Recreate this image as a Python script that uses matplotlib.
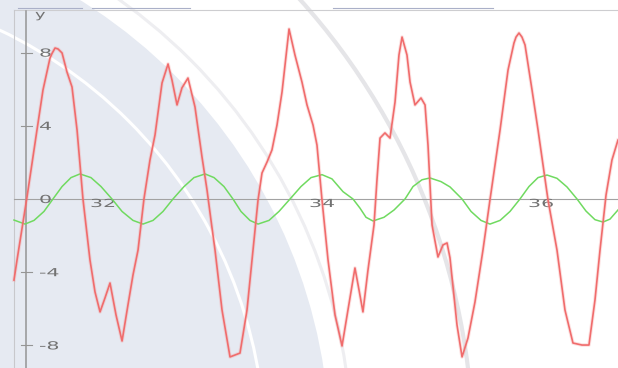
import matplotlib
matplotlib.use("Agg")
import matplotlib.pyplot as plt
from matplotlib.patches import Circle
from matplotlib.patheffects import AbstractPathEffect
from matplotlib.transforms import Affine2D, offset_copy

# ---- data -------------------------------------------------------------
# red signal (x, y samples)
red_x = [31.187, 31.215, 31.306, 31.397, 31.452, 31.516, 31.534, 31.562, 31.589, 31.626,
         31.671, 31.717, 31.763, 31.817, 31.881, 31.927, 31.973, 32.018, 32.064, 32.119,
         32.174, 32.228, 32.274, 32.320, 32.374, 32.429, 32.475, 32.539, 32.594, 32.630,
         32.676, 32.721, 32.776, 32.840, 32.904, 32.950, 32.986, 33.023, 33.087, 33.160,
         33.251, 33.315, 33.370, 33.416, 33.452, 33.498, 33.543, 33.589, 33.635, 33.699,
         33.753, 33.817, 33.863, 33.918, 33.954, 34.000, 34.055, 34.119, 34.183, 34.237,
         34.301, 34.338, 34.374, 34.420, 34.475, 34.502, 34.530, 34.575, 34.621, 34.667,
         34.703, 34.731, 34.776, 34.804, 34.849, 34.904, 34.941, 34.968, 35.005, 35.059,
         35.105, 35.142, 35.169, 35.233, 35.279, 35.333, 35.397, 35.470, 35.534, 35.626,
         35.699, 35.753, 35.772, 35.799, 35.826, 35.854, 35.918, 35.973, 36.064, 36.146,
         36.219, 36.292, 36.374, 36.438, 36.493, 36.539, 36.594, 36.648, 36.703]
red_y = [-4.43, -3.33, 0.11, 3.77, 5.96, 7.70, 7.95, 8.25, 8.20, 7.98,
         6.94, 6.12, 3.77, 0.00, -3.33, -5.08, -6.17, -5.41, -4.59, -6.34,
         -7.76, -5.79, -4.15, -2.79, 0.00, 2.13, 3.50, 6.34, 7.38, 6.50,
         5.14, 6.07, 6.61, 5.03, 2.30, 0.49, -1.15, -2.79, -6.07, -8.63,
         -8.42, -6.07, -2.79, -0.05, 1.42, 2.02, 2.68, 4.04, 5.85, 9.29,
         7.87, 6.39, 5.14, 4.04, 2.95, -0.05, -3.33, -6.34, -8.03, -6.07,
         -3.77, -4.97, -6.17, -3.88, -1.42, 1.04, 3.33, 3.61, 3.33, 5.30,
         7.87, 8.85, 7.87, 6.39, 5.14, 5.52, 5.14, 2.95, -1.42, -3.17,
         -2.51, -2.40, -3.22, -6.89, -8.63, -7.60, -5.63, -2.79, -0.05, 3.77,
         7.05, 8.52, 8.85, 9.07, 8.85, 8.42, 5.96, 3.77, -0.05, -2.79,
         -6.07, -7.87, -7.98, -7.98, -5.52, -2.79, 0.22, 2.13, 3.22]

# green reference wave (x, y samples)
green_x = [31.187, 31.288, 31.370, 31.461, 31.543, 31.626, 31.708, 31.790, 31.890, 31.982,
           32.082, 32.174, 32.274, 32.365, 32.457, 32.548, 32.639, 32.740, 32.831, 32.932,
           33.014, 33.105, 33.187, 33.260, 33.342, 33.416, 33.516, 33.607, 33.708, 33.808,
           33.900, 34.000, 34.091, 34.192, 34.283, 34.347, 34.402, 34.466, 34.566, 34.658,
           34.758, 34.831, 34.913, 34.986, 35.087, 35.169, 35.279, 35.361, 35.452, 35.534,
           35.626, 35.717, 35.808, 35.890, 35.973, 36.055, 36.146, 36.237, 36.329, 36.411,
           36.493, 36.566, 36.630, 36.703]
green_y = [-1.15, -1.37, -1.17, -0.68, 0.00, 0.68, 1.17, 1.37, 1.17, 0.68,
           0.00, -0.68, -1.17, -1.37, -1.17, -0.68, 0.00, 0.68, 1.17, 1.37,
           1.17, 0.68, 0.00, -0.68, -1.17, -1.37, -1.17, -0.68, 0.00, 0.68,
           1.17, 1.33, 1.10, 0.40, 0.00, -0.50, -1.00, -1.20, -1.00, -0.60,
           0.00, 0.68, 1.05, 1.15, 0.95, 0.66, 0.00, -0.68, -1.17, -1.37,
           -1.17, -0.68, 0.00, 0.68, 1.17, 1.31, 1.13, 0.66, 0.00, -0.66,
           -1.13, -1.26, -1.10, -0.60]

x_ticks = [32, 34, 36]
x_tick_labels = ["32", "34", "36"]
y_ticks = [8, 4, 0, -4, -8]
y_tick_labels = ["8", "4", "0", "-4", "-8"]

# ---- layout -----------------------------------------------------------
W, H = 618, 368
fig = plt.figure(figsize=(W / 100, H / 100), dpi=100)
fig.patch.set_facecolor("white")


class Widen(AbstractPathEffect):
    """Draw glyphs horizontally widened (about the text origin)."""

    def __init__(self, sx):
        super().__init__()
        self.sx = sx

    def draw_path(self, renderer, gc, tpath, affine, rgbFace=None):
        renderer.draw_path(gc, tpath, Affine2D().scale(self.sx, 1.0) + affine, rgbFace)


# backdrop layer in pixel units
bg = fig.add_axes([0, 0, 1, 1])
bg.set_xlim(0, W)
bg.set_ylim(H, 0)
bg.axis("off")
cx, cy = -200, 450
bg.add_patch(Circle((cx, cy), 530, facecolor="#e6eaf2", edgecolor="none"))
bg.add_patch(Circle((cx, cy), 465, facecolor="none", edgecolor="white", lw=2.2))
bg.add_patch(Circle((cx, cy), 552, facecolor="none", edgecolor="#eeeef1", lw=2.2))
bg.add_patch(Circle((cx, cy), 673, facecolor="none", edgecolor="#e5e5e8", lw=3.0))

# window frame remnants along the top
bg.plot([14, W], [10, 10], color="#cdcdd0", lw=0.8)
for a, b in [(18, 82), (92, 190), (333, 493)]:
    bg.plot([a, b], [7.5, 7.5], color="#aab0c8", lw=0.8)
bg.plot([14, 14], [10, H], color="#c8c8cc", lw=0.8)

# plotting layer in data units
ax = fig.add_axes([0, 0, 1, 1])
ax.patch.set_alpha(0)
ax.axis("off")


def px_x(p):
    return 32 + (p - 103) / 109.5


def px_y(p):
    return (199 - p) / 18.3


ax.set_xlim(px_x(0), px_x(W))
ax.set_ylim(px_y(H), px_y(0))

axis_col = "#959595"
ax.axhline(0, xmin=14 / W, xmax=1, color="#a2a2a2", lw=0.8, zorder=1)
ax.plot([px_x(26), px_x(26)], [px_y(11), px_y(H)], color=axis_col, lw=1.1, zorder=1)
for yv in y_ticks:
    if yv != 0:
        ax.plot([px_x(21), px_x(32)], [yv, yv], color=axis_col, lw=0.8, zorder=1)

txt_col = "#727272"
fs = 8
for yv, lab in zip(y_ticks, y_tick_labels):
    ax.text(px_x(39), yv, lab, ha="left", va="baseline", fontsize=fs, color=txt_col,
            transform=offset_copy(ax.transData, fig=fig, x=0, y=-4, units="dots"),
            path_effects=[Widen(1.85)])
for xv, lab in zip(x_ticks, x_tick_labels):
    ax.text(xv, 0, lab, ha="left", va="baseline", fontsize=fs, color=txt_col,
            transform=offset_copy(ax.transData, fig=fig, x=-13, y=-8, units="dots"),
            path_effects=[Widen(1.85)])
bg.text(35, 18, "y", ha="left", va="baseline", fontsize=fs, color=txt_col,
        path_effects=[Widen(1.6)])

ax.plot(green_x, green_y, color="#70da60", lw=1.1, solid_joinstyle="round", zorder=3)
# soft halo under the red trace, then the trace itself
ax.plot(red_x, red_y, color="#f48a8a", lw=2.6, alpha=0.25, solid_joinstyle="round", zorder=4)
ax.plot(red_x, red_y, color="#f06c6c", lw=1.2, solid_joinstyle="round", zorder=5)

fig.savefig("out.png", dpi=100, facecolor="white")
